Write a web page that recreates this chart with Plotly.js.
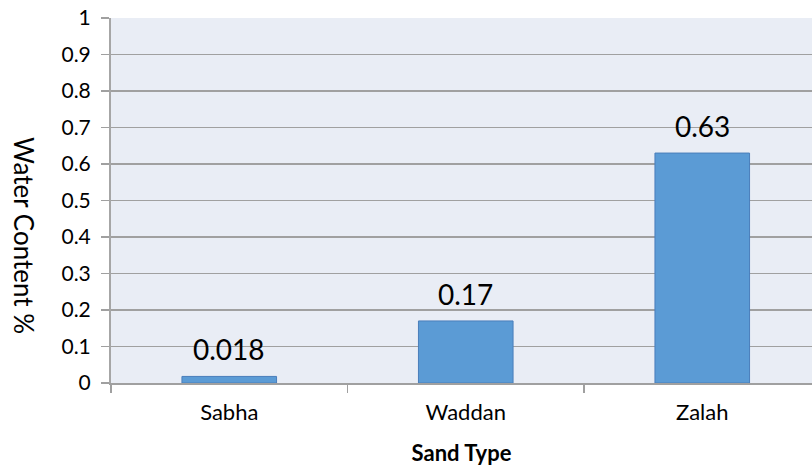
<!DOCTYPE html>
<html>
<head>
<meta charset="utf-8">
<script src="https://cdn.plot.ly/plotly-3.0.1.min.js"></script>
<style>
  html, body { margin: 0; padding: 0; background: #fff; overflow: hidden; }
  #plot-div { width: 812px; height: 466px; }
</style>
</head>
<body>
<div id="plot-div"></div>
<script>
var sandTypes = ["Sabha", "Waddan", "Zalah"];
var waterContent = [0.018, 0.17, 0.63];
var valueLabels = ["0.018", "0.17", "0.63"];

var trace = {
  x: sandTypes,
  y: waterContent,
  type: "bar",
  width: 0.4,
  marker: {
    color: "#5b9bd5",
    line: { color: "#4a7ebb", width: 1 }
  },
  hoverinfo: "none"
};

// value labels sit a little above each bar
var labelNotes = sandTypes.map(function (cat, i) {
  return {
    x: cat,
    y: waterContent[i],
    xref: "x",
    yref: "y",
    text: valueLabels[i],
    showarrow: false,
    yanchor: "bottom",
    yshift: 8,
    font: { family: "Lato, 'Open Sans', sans-serif", size: 28, color: "#000" }
  };
});

// y title reads top to bottom in the original
labelNotes.push({
  xref: "paper",
  yref: "paper",
  x: -0.124,
  y: 0.405,
  xanchor: "center",
  yanchor: "middle",
  text: "Water Content %",
  textangle: 90,
  showarrow: false,
  font: { family: "Lato, 'Open Sans', sans-serif", size: 26, color: "#000" }
});

var layout = {
  width: 812,
  height: 466,
  margin: { l: 111, r: 0, t: 18, b: 83 },
  paper_bgcolor: "#ffffff",
  plot_bgcolor: "#e9edf5",
  showlegend: false,
  font: { family: "Lato, 'Open Sans', sans-serif", color: "#000" },
  annotations: labelNotes,
  xaxis: {
    type: "category",
    range: [-0.5, 2.464],
    tickson: "boundaries",
    ticks: "outside",
    ticklen: 8,
    tickcolor: "#a0a0a0",
    tickwidth: 1.5,
    showline: true,
    linecolor: "#a0a0a0",
    linewidth: 1.5,
    showgrid: false,
    tickfont: { size: 22, color: "#000" },
    ticklabelstandoff: 9,
    title: { text: "<b>Sand Type</b>", font: { size: 22, color: "#000" }, standoff: 22 }
  },
  yaxis: {
    range: [0, 1],
    dtick: 0.1,
    ticks: "outside",
    ticklen: 8,
    tickcolor: "#a0a0a0",
    tickwidth: 1.5,
    showline: true,
    linecolor: "#a6a6a6",
    linewidth: 2,
    showgrid: true,
    gridcolor: "#a0a0a0",
    gridwidth: 1.5,
    zeroline: false,
    tickfont: { size: 21, color: "#000" },
    ticklabelstandoff: 6
  }
};

Plotly.newPlot("plot-div", [trace], layout, { staticPlot: true, displayModeBar: false });
</script>
</body>
</html>
